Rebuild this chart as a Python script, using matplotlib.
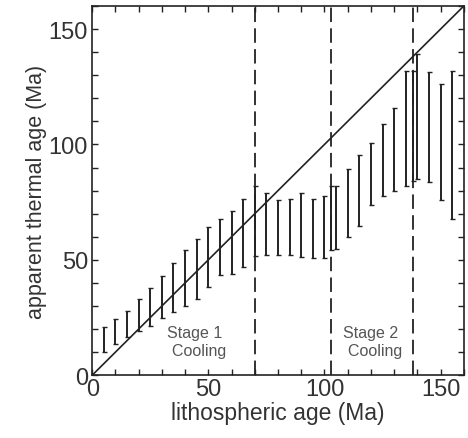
import matplotlib
matplotlib.use("Agg")
import matplotlib.pyplot as plt
import numpy as np

plt.rcParams["font.family"] = ["Liberation Sans", "DejaVu Sans"]

# lithospheric age of each bin (Ma) and range of apparent thermal age (Ma)
lith_age = [5, 10, 15, 20, 25, 30, 35, 40, 45, 50, 55, 60, 65, 70, 75, 80,
            85, 90, 95, 100, 103, 105, 110, 115, 120, 125, 130, 135, 138,
            140, 145, 150, 155]
thermal_lo = [10, 13.7, 16.6, 19.2, 21.4, 25, 27.6, 29.8, 33.2, 38.4, 43.3,
              44, 47.1, 51.7, 52.3, 52, 52, 51.4, 50.6, 50.6, 54.2, 54.6,
              60.1, 64.7, 73.7, 77.5, 79.9, 82, 84, 85, 83.6, 75.8, 67.5]
thermal_hi = [20.9, 24.3, 27.9, 32.9, 37.6, 43, 48.8, 54.3, 59, 64.3, 67.9,
              71.2, 76.3, 82, 78.9, 76, 76.3, 78.9, 76.3, 77.5, 82, 82, 89.3,
              95.5, 100.6, 108.8, 116, 131.9, 132, 139, 131.3, 126, 131.7]

# stage boundaries (Ma)
boundaries = [70, 103, 138]
stage_labels = ["Stage 1\n  Cooling", "Stage 2\n  Cooling"]
stage_x = [44, 120]

fig = plt.figure(figsize=(4.68, 4.39), dpi=100)
ax = fig.add_axes([0.197, 0.143, 0.794, 0.841])

x = np.array(lith_age)
lo = np.array(thermal_lo)
hi = np.array(thermal_hi)
mid = (lo + hi) / 2
half = (hi - lo) / 2
ax.errorbar(x, mid, yerr=half, fmt="none", ecolor="#222222",
            elinewidth=1.4, capsize=1.8, capthick=1.0)

ax.plot([0, 160], [0, 160], color="#222222", lw=1.2)

for b in boundaries:
    ax.axvline(b, color="#222222", lw=1.3, dashes=(8, 3.5))

for sx, lab in zip(stage_x, stage_labels):
    ax.text(sx, 14.5, lab, ha="center", va="center", fontsize=11.5,
            color="#555555", linespacing=1.25)

ax.set_xlim(0, 160)
ax.set_ylim(0, 160)
ax.set_xticks([0, 50, 100, 150])
ax.set_yticks([0, 50, 100, 150])
ax.set_xticks(np.arange(0, 161, 10), minor=True)
ax.set_yticks(np.arange(0, 161, 10), minor=True)
ax.tick_params(which="both", direction="in", top=True, right=True,
               length=4, width=1, color="#222222")
ax.tick_params(which="major", labelsize=17, labelcolor="#333333", pad=3)
ax.tick_params(axis="x", which="major", pad=2)

ax.set_xlabel("lithospheric age (Ma)", fontsize=16.5, color="#333333", labelpad=1)
ax.set_ylabel("apparent thermal age (Ma)", fontsize=15.5, color="#333333", labelpad=1)

for s in ax.spines.values():
    s.set_linewidth(1.2)
    s.set_color("#222222")

fig.savefig("out.png", dpi=100)
